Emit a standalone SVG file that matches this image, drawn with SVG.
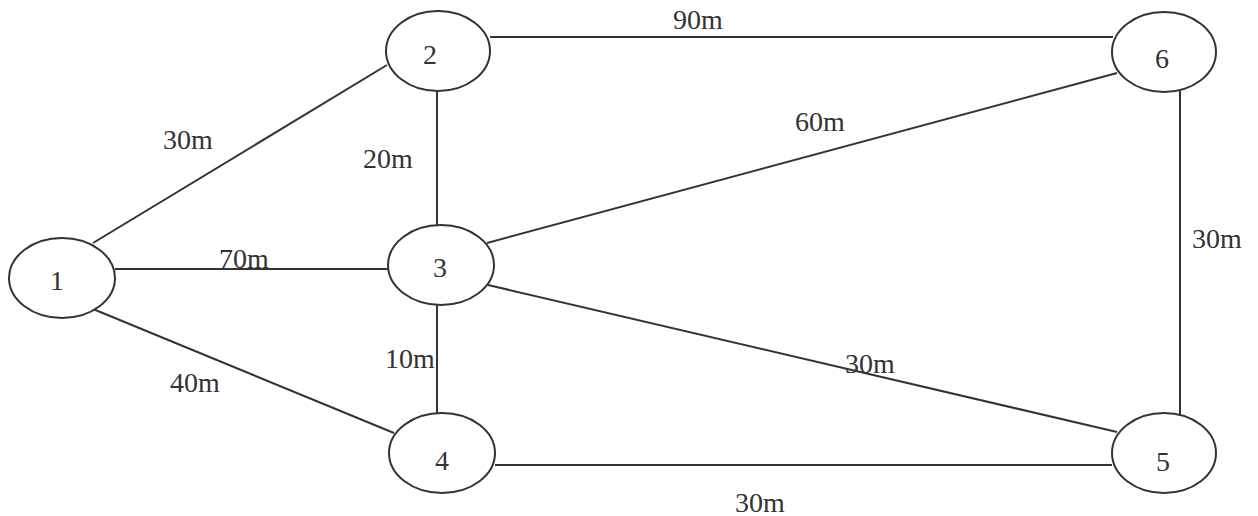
<svg xmlns="http://www.w3.org/2000/svg" width="1258" height="516" viewBox="0 0 1258 516">
<style>
.e{stroke:#333;stroke-width:2;fill:none}
.n{fill:#fff;stroke:#333;stroke-width:2}
.t{font-family:"Liberation Serif","Times New Roman",serif;font-size:28px;fill:#333}
.c{text-anchor:middle}
</style>
<rect width="1258" height="516" fill="#fff"/>
<g id="connectors" class="e">
<line x1="93" y1="243" x2="387" y2="65"/>
<line x1="490" y1="37" x2="1113" y2="37"/>
<line x1="437" y1="90" x2="437" y2="226"/>
<line x1="115" y1="269" x2="388" y2="269"/>
<line x1="93" y1="309" x2="394" y2="433"/>
<line x1="487" y1="243" x2="1117" y2="73"/>
<line x1="488" y1="285" x2="1117" y2="432"/>
<line x1="437" y1="304" x2="437" y2="414"/>
<line x1="495" y1="465" x2="1112" y2="465"/>
<line x1="1180" y1="91" x2="1180" y2="415"/>
</g>
<g id="labels" class="t">
<text x="163" y="149">30m</text>
<text x="673" y="29">90m</text>
<text x="363" y="168">20m</text>
<text x="795" y="131">60m</text>
<text x="219" y="268">70m</text>
<text x="1192" y="248">30m</text>
<text x="385" y="368">10m</text>
<text x="170" y="392">40m</text>
<text x="845" y="373">30m</text>
<text x="735" y="512">30m</text>
</g>
<g id="node1"><ellipse class="n" cx="62" cy="278" rx="53" ry="40"/><text class="t c" x="57" y="290">1</text></g>
<g id="node2"><ellipse class="n" cx="438" cy="51" rx="52" ry="40"/><text class="t c" x="430" y="64">2</text></g>
<g id="node3"><ellipse class="n" cx="441" cy="265" rx="53" ry="40"/><text class="t c" x="440" y="277">3</text></g>
<g id="node4"><ellipse class="n" cx="442" cy="453" rx="53" ry="40"/><text class="t c" x="442" y="470">4</text></g>
<g id="node5"><ellipse class="n" cx="1164" cy="453" rx="52" ry="40"/><text class="t c" x="1163" y="471">5</text></g>
<g id="node6"><ellipse class="n" cx="1164" cy="52" rx="52" ry="40"/><text class="t c" x="1162" y="68">6</text></g>
</svg>
